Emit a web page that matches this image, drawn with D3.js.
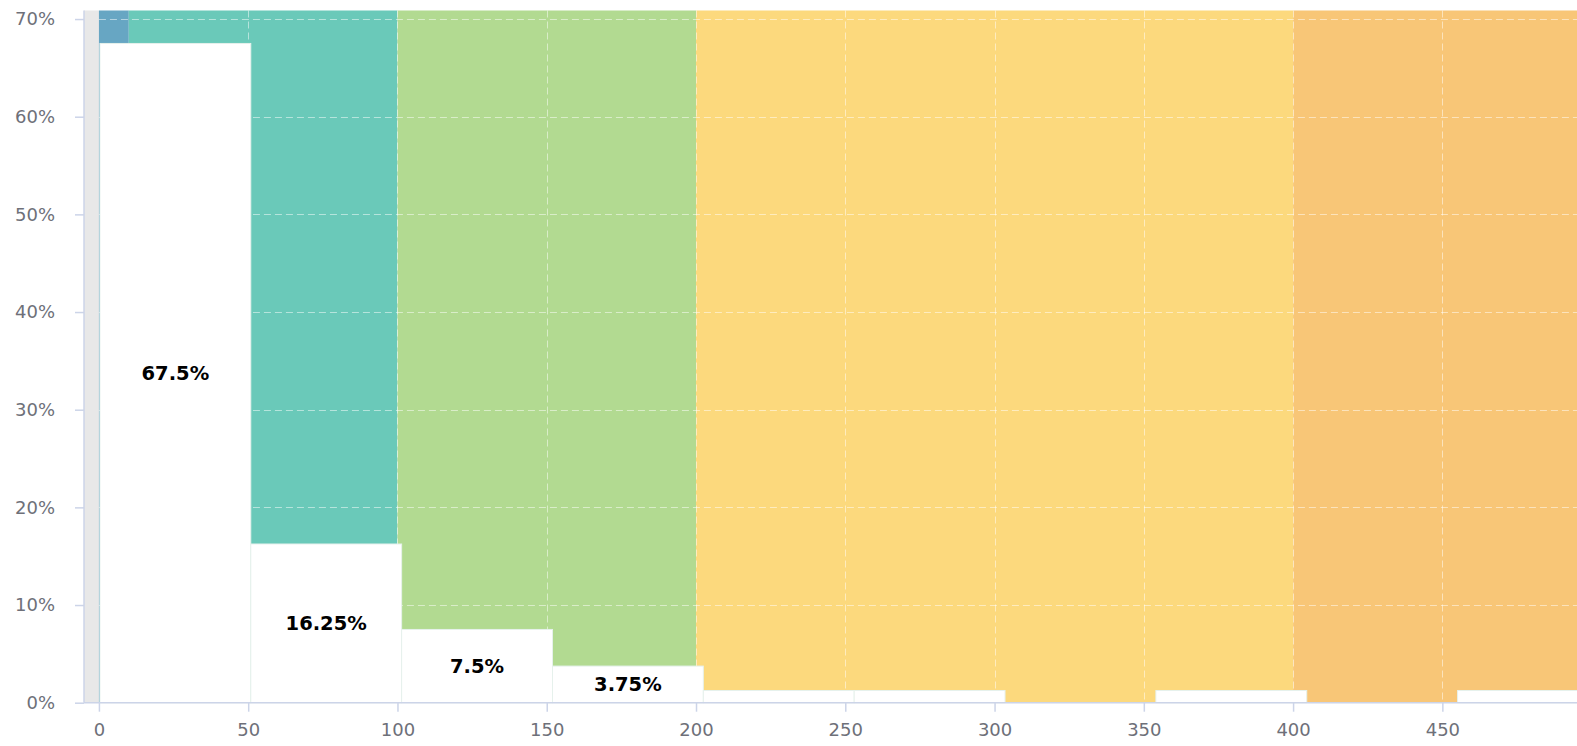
<!DOCTYPE html>
<html>
<head>
<meta charset="utf-8">
<script src="https://cdn.jsdelivr.net/npm/d3@7"></script>
<style>
  html, body { margin: 0; padding: 0; background: #fff; overflow: hidden; }
  svg { display: block; }
</style>
</head>
<body>
<svg id="chart" width="1600" height="746"></svg>
<script>
// ---- data ----
const binStarts = [0, 50, 100, 150, 200, 250, 300, 350, 400, 450];
const binSize = 50;
const shares = [67.5, 16.25, 7.5, 3.75, 1.25, 1.25, 0, 1.25, 0, 1.25]; // percent
const bandStarts = [-5, 0, 10, 100, 200, 400];
const bandEnds   = [0, 10, 100, 200, 400, 500];
const bandColors = ["#e8e8e8", "#67a6c3", "#6ac9b9", "#b2da91", "#fcd97d", "#f8c677"];
const xTicks = [0, 50, 100, 150, 200, 250, 300, 350, 400, 450];
const yTicks = [0, 10, 20, 30, 40, 50, 60, 70];

// ---- layout ----
const svg = d3.select("#chart");
const mLeft = 84, mTop = 10.5, mBottom = 702.7;
const pxPer50 = 149.27;
const x = d3.scaleLinear().domain([-5, 500]).range([mLeft, mLeft + 505 * pxPer50 / 50]);
const yMax = d3.max(shares) * 1.05;
const y = d3.scaleLinear().domain([0, yMax]).range([mBottom, mTop]);
// bars are laid out on a slightly wider slot grid than the value axis
const barSlot = 150.85;
const xb = d3.scaleLinear().domain([0, 500]).range([x(0) + 1, x(0) + 1 + 10 * barSlot]);

const font = "'DejaVu Sans', Verdana, sans-serif";

// background bands
svg.append("g").selectAll("rect").data(bandStarts).join("rect")
  .attr("x", (d) => x(d))
  .attr("width", (d, i) => x(bandEnds[i]) - x(d))
  .attr("y", y(yMax))
  .attr("height", y(0) - y(yMax))
  .attr("fill", (d, i) => bandColors[i]);

// grid lines
const grid = svg.append("g").attr("stroke", "#ffffff").attr("stroke-opacity", 0.5)
  .attr("stroke-dasharray", "7,4").attr("fill", "none");
grid.selectAll(".h").data(yTicks.filter(t => t > 0)).join("line")
  .attr("x1", x(0)).attr("x2", x(500))
  .attr("y1", d => Math.round(y(d)) + 0.5).attr("y2", d => Math.round(y(d)) + 0.5);
grid.selectAll(".v").data(xTicks.filter(t => t > 0)).join("line")
  .attr("y1", y(yMax)).attr("y2", y(0))
  .attr("x1", d => Math.round(x(d)) + 0.5).attr("x2", d => Math.round(x(d)) + 0.5);

// bars
const bars = svg.append("g");
bars.selectAll("rect").data(binStarts.map((s, i) => ({ s, v: shares[i] })).filter(d => d.v > 0))
  .join("rect")
  .attr("x", d => xb(d.s))
  .attr("width", d => xb(d.s + binSize) - xb(d.s))
  .attr("y", d => y(d.v))
  .attr("height", d => y(0) - y(d.v))
  .attr("fill", "#ffffff")
  .attr("stroke", "#e6f1ec")
  .attr("stroke-width", 1);

// bar labels
svg.append("g").selectAll("text")
  .data(binStarts.map((s, i) => ({ s, v: shares[i] })).filter(d => d.v >= 3))
  .join("text")
  .attr("x", d => (xb(d.s) + xb(d.s + binSize)) / 2)
  .attr("y", d => (y(d.v) + y(0)) / 2)
  .attr("text-anchor", "middle")
  .attr("dominant-baseline", "central")
  .attr("font-family", font)
  .attr("font-weight", "bold")
  .attr("font-size", 19.5)
  .attr("fill", "#000")
  .text(d => d.v + "%");

// axes
const axisColor = "#ccd4e8";
const xAxis = svg.append("g").attr("transform", `translate(0,${mBottom})`)
  .call(d3.axisBottom(x).tickValues(xTicks).tickSize(9).tickPadding(12).tickFormat(d3.format("d")));
const yAxis = svg.append("g").attr("transform", `translate(${mLeft},0)`)
  .call(d3.axisLeft(y).tickValues(yTicks).tickSize(9).tickPadding(20).tickFormat(d => d + "%"));
[xAxis, yAxis].forEach(a => {
  a.select(".domain").attr("stroke", axisColor).attr("stroke-width", 1.5);
  a.selectAll(".tick line").attr("stroke", axisColor).attr("stroke-width", 1.5);
  a.selectAll(".tick text").attr("fill", "#6e7079").attr("font-family", font).attr("font-size", 18);
});
xAxis.select(".domain").attr("d", `M${x(-5)},0H${x(500)}`);
yAxis.select(".domain").attr("d", `M0,${y(0)}V${y(yMax)}`);
</script>
</body>
</html>
